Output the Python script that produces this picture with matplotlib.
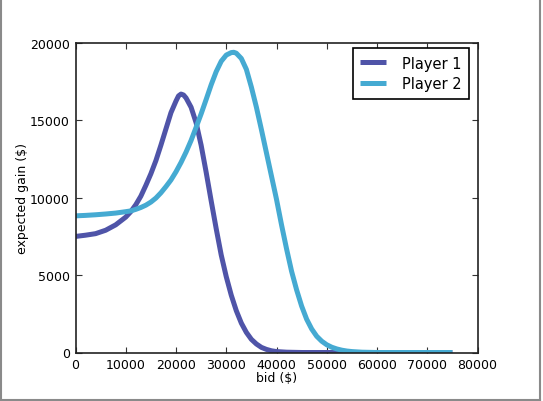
import matplotlib
matplotlib.use("Agg")
import matplotlib.pyplot as plt
from matplotlib.lines import Line2D

bids1 = [0, 2000, 4000, 6000, 8000, 9000, 10000, 11000, 12000, 13000, 14000,
         15000, 16000, 17000, 18000, 19000, 20000, 20500, 21000, 21500, 22000,
         23000, 24000, 25000, 26000, 27000, 28000, 29000, 30000, 31000, 32000,
         33000, 34000, 35000, 36000, 37000, 38000, 39000, 40000, 42000, 45000,
         50000, 60000, 70000, 75000]
gain1 = [7500, 7580, 7680, 7900, 8250, 8500, 8750, 9100, 9550, 10100, 10800,
         11550, 12400, 13400, 14450, 15500, 16250, 16580, 16700, 16640, 16450,
         15850, 14850, 13400, 11650, 9800, 8000, 6300, 4900, 3700, 2700,
         1900, 1300, 850, 550, 330, 200, 110, 60, 20, 0,
         0, 0, 0, 0]

bids2 = [0, 2000, 4000, 6000, 8000, 10000, 11000, 12000, 13000, 14000, 15000,
         16000, 17000, 18000, 19000, 20000, 21000, 22000, 23000, 24000, 25000,
         26000, 27000, 28000, 29000, 30000, 31000, 31500, 32000, 33000, 34000,
         35000, 36000, 37000, 38000, 39000, 40000, 41000, 42000, 43000, 44000,
         45000, 46000, 47000, 48000, 49000, 50000, 51000, 52000, 53000, 54000,
         55000, 57000, 60000, 65000, 70000, 75000]
gain2 = [8830, 8860, 8900, 8950, 9010, 9100, 9150, 9250, 9370, 9520, 9720,
         9980, 10320, 10720, 11150, 11680, 12280, 12950, 13700, 14550, 15420,
         16350, 17300, 18150, 18820, 19220, 19380, 19400, 19340, 19000, 18300,
         17150, 15850, 14400, 12900, 11400, 9900, 8250, 6700, 5250, 4050,
         3000, 2150, 1520, 1050, 730, 500, 340, 230, 150, 95,
         60, 20, 0, 0, 0, 0]

labels = ["Player 1", "Player 2"]
colors = ["#4f54a8", "#45aad2"]
xticks = list(range(0, 80001, 10000))
yticks = list(range(0, 20001, 5000))

plt.rcParams.update({
    "font.family": "DejaVu Sans",
    "xtick.direction": "in",
    "ytick.direction": "in",
    "xtick.top": True,
    "ytick.right": True,
    "xtick.major.size": 4,
    "ytick.major.size": 4,
    "xtick.major.pad": 4,
    "ytick.major.pad": 4,
})

fig = plt.figure(figsize=(5.43, 4.02), dpi=100)
ax = fig.add_axes([75.5 / 543, 1 - 353.5 / 402, 402 / 543, 309.5 / 402])

ax.plot(bids1, gain1, color=colors[0], lw=3.6, label=labels[0],
        solid_joinstyle="round", solid_capstyle="butt")
ax.plot(bids2, gain2, color=colors[1], lw=3.6, label=labels[1],
        solid_joinstyle="round", solid_capstyle="butt")

ax.set_xlim(0, 80000)
ax.set_ylim(0, 20000)
ax.set_xticks(xticks)
ax.set_yticks(yticks)
ax.tick_params(labelsize=9, width=0.8, color="#333333")
for s in ax.spines.values():
    s.set_linewidth(1.2)
    s.set_color("#222222")

ax.set_xlabel("bid ($)", fontsize=9, labelpad=0)
ax.set_ylabel("expected gain ($)", fontsize=9, labelpad=1)

leg = ax.legend(loc="upper right", bbox_to_anchor=(0.979, 0.983),
                fontsize=10.5, fancybox=False, framealpha=1,
                edgecolor="black", borderaxespad=0, handlelength=1.8,
                handletextpad=1.1, borderpad=0.5, labelspacing=0.4)
leg.get_frame().set_linewidth(1.2)

# figure border (left, bottom, right)
gc = "#8a8a8a"
fig.add_artist(Line2D([0.5 / 543, 0.5 / 543], [0, 1], transform=fig.transFigure, color=gc, lw=1.5))
fig.add_artist(Line2D([0, 540 / 543], [1.5 / 402, 1.5 / 402], transform=fig.transFigure, color=gc, lw=1.5))
fig.add_artist(Line2D([539.5 / 543, 539.5 / 543], [0, 1], transform=fig.transFigure, color=gc, lw=1.5))

fig.savefig("out.png", dpi=100)
